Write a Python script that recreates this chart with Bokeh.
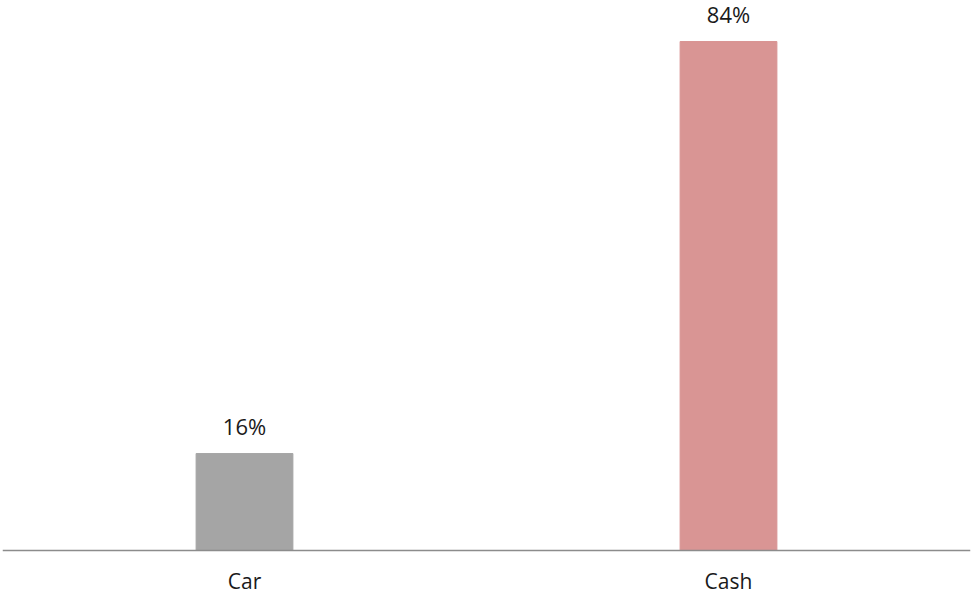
from bokeh.plotting import figure
from bokeh.models import Range1d, Span, ColumnDataSource
from bokeh.core.properties import value
from bokeh.embed import file_html
from bokeh.resources import INLINE

categories = ["Car", "Cash"]
shares = [16, 84]
bar_colors = ["#A5A5A5", "#D99594"]
value_labels = [f"{v}%" for v in shares]

src = ColumnDataSource(dict(cat=categories, val=shares, color=bar_colors,
                            lab=value_labels, zero=[0] * len(categories)))

p = figure(width=971, height=596, x_range=categories, y_range=Range1d(-7.59, 90.77),
           output_backend="svg", toolbar_location=None,
           x_axis_type=None, y_axis_type=None,
           min_border_left=2, min_border_right=1, min_border_top=0, min_border_bottom=0)
p.x_range.range_padding = 0
p.outline_line_color = None
p.xgrid.visible = False
p.ygrid.visible = False
p.background_fill_color = "white"
p.border_fill_color = "white"

p.vbar(x="cat", top="val", bottom=0, width=0.2, color="color", source=src)

p.add_layout(Span(location=0, dimension="width", line_color="#8c8c8c", line_width=1.5))

font = value("Open Sans")
p.text(x="cat", y="val", text="lab", source=src, text_font=font, text_font_size="22px",
       text_color="#1a1a1a", text_align="center", text_baseline="alphabetic", y_offset=-28)
p.text(x="cat", y="zero", text="cat", source=src, text_font=font, text_font_size="21px",
       text_color="#1a1a1a", text_align="center", text_baseline="alphabetic", y_offset=30)

open("out.html", "w").write(file_html(p, INLINE))
